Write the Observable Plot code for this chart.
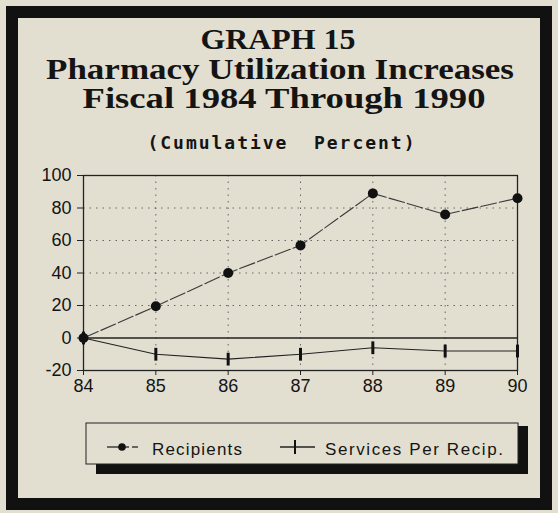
<!DOCTYPE html>
<html><head><meta charset="utf-8">
<script src="https://cdn.jsdelivr.net/npm/d3@7"></script>
<script src="https://cdn.jsdelivr.net/npm/@observablehq/plot@0.6"></script>
<style>
html,body{margin:0;padding:0;background:#e2dfd1;}
#page{position:relative;width:558px;height:513px;overflow:hidden;background:#e2dfd1;}
#deco{position:absolute;left:0;top:0;}
#chart{position:absolute;left:0;top:150px;}
</style></head><body>
<div id="page">
<svg id="deco" width="558" height="513" xmlns="http://www.w3.org/2000/svg">
  <rect x="12" y="12" width="534" height="492" fill="none" stroke="#111" stroke-width="12"/>
  <g font-family="Liberation Serif, serif" font-weight="bold" fill="#141414" text-anchor="middle">
    <text x="278" y="49" font-size="29" textLength="155" lengthAdjust="spacingAndGlyphs">GRAPH 15</text>
    <text x="280" y="79" font-size="29" textLength="468" lengthAdjust="spacingAndGlyphs">Pharmacy Utilization Increases</text>
    <text x="284" y="108" font-size="29" textLength="403" lengthAdjust="spacingAndGlyphs">Fiscal 1984 Through 1990</text>
  </g>
  <text x="281" y="149" font-family="DejaVu Sans Mono, monospace" font-weight="bold" font-size="18" fill="#141414" text-anchor="middle" textLength="267" lengthAdjust="spacing" xml:space="preserve">(Cumulative  Percent)</text>
  <g id="legend"></g>
</svg>
<div id="chart"></div>
</div>
<script>
// ---- data ----
const years = [84, 85, 86, 87, 88, 89, 90];
const recipients = [0, 19.5, 40, 57, 89, 76, 86];
const servicesPerRecip = [0, -10, -13, -10, -6, -8, -8];
const yTicks = [-20, 0, 20, 40, 60, 80, 100];
const yTickLabels = ["-20", "0", "20", "40", "60", "80", "100"];
const xTickLabels = ["84", "85", "86", "87", "88", "89", "90"];
const seriesNames = ["Recipients", "Services Per Recip."];

const rec = years.map((yr, i) => ({year: yr, value: recipients[i], series: seriesNames[0]}));
const svc = years.map((yr, i) => ({year: yr, value: servicesPerRecip[i], series: seriesNames[1]}));

const barSymbol = {
  draw(context, size) {
    const h = Math.sqrt(size / Math.PI) * 1.6;
    context.moveTo(0, -h);
    context.lineTo(0, h);
  }
};

const ink = "#141414";
const font = "Liberation Sans, Arial, sans-serif";

const chart = Plot.plot({
  width: 558,
  height: 250,
  marginLeft: 83,
  marginRight: 41,
  marginTop: 25,
  marginBottom: 30,
  style: {background: "transparent", fontFamily: font, fontSize: "18px", color: ink, overflow: "visible"},
  x: {domain: [84, 90], label: null},
  y: {domain: [-20, 100], label: null},
  marks: [
    Plot.gridY(yTicks.filter(v => v > 0 && v < 100), {stroke: "#333", strokeOpacity: 0.7, strokeDasharray: "1.5,5", strokeWidth: 1}),
    Plot.gridX(years.filter(v => v > 84 && v < 90), {stroke: "#333", strokeOpacity: 0.7, strokeDasharray: "1.5,5", strokeWidth: 1}),
    Plot.frame({stroke: "#222", strokeWidth: 1.3}),
    Plot.ruleY([0], {stroke: "#222", strokeWidth: 1.3}),
    Plot.axisX({ticks: years, tickFormat: (d) => xTickLabels[years.indexOf(d)], tickSize: 5, tickPadding: 4, stroke: "#222", fill: ink, fontSize: 18}),
    Plot.axisY({ticks: yTicks, tickFormat: (d) => yTickLabels[yTicks.indexOf(d)], tickSize: 6, tickPadding: 6, stroke: "#222", fill: ink, fontSize: 18}),
    Plot.line(rec, {x: "year", y: "value", stroke: "#3a3a3a", strokeWidth: 1.1, strokeDasharray: "16,3"}),
    Plot.line(svc, {x: "year", y: "value", stroke: "#222", strokeWidth: 1.2}),
    Plot.dot(rec, {x: "year", y: "value", r: 5, fill: "#111", stroke: "none"}),
    Plot.dot(svc, {x: "year", y: "value", symbol: barSymbol, r: 4, stroke: "#111", strokeWidth: 3, fill: "none"})
  ]
});
document.getElementById("chart").appendChild(chart);

// ---- legend (drawn in decoration svg) ----
const lg = d3.select("#legend");
lg.append("rect").attr("x", 96).attr("y", 464).attr("width", 432).attr("height", 10).attr("fill", "#111");
lg.append("rect").attr("x", 518).attr("y", 426).attr("width", 10).attr("height", 48).attr("fill", "#111");
lg.append("rect").attr("x", 86).attr("y", 423).attr("width", 432).attr("height", 41).attr("fill", "#e2dfd1").attr("stroke", "#222").attr("stroke-width", 1);
// recipients symbol
lg.append("line").attr("x1", 107).attr("x2", 129).attr("y1", 447).attr("y2", 447).attr("stroke", "#222").attr("stroke-width", 1.3);
lg.append("line").attr("x1", 132).attr("x2", 138).attr("y1", 447).attr("y2", 447).attr("stroke", "#222").attr("stroke-width", 1.3);
lg.append("circle").attr("cx", 122).attr("cy", 447).attr("r", 3.8).attr("fill", "#111");
lg.append("text").attr("x", 152).attr("y", 455).attr("font-family", font).attr("font-size", 17).attr("fill", ink)
  .attr("textLength", 90).attr("lengthAdjust", "spacing").text(seriesNames[0]);
// services symbol
lg.append("line").attr("x1", 280).attr("x2", 315).attr("y1", 447).attr("y2", 447).attr("stroke", "#222").attr("stroke-width", 1.3);
lg.append("line").attr("x1", 295).attr("x2", 295).attr("y1", 440).attr("y2", 454).attr("stroke", "#111").attr("stroke-width", 2);
lg.append("text").attr("x", 325).attr("y", 455).attr("font-family", font).attr("font-size", 17).attr("fill", ink)
  .attr("textLength", 178).attr("lengthAdjust", "spacing").text(seriesNames[1]);
</script>
</body></html>
